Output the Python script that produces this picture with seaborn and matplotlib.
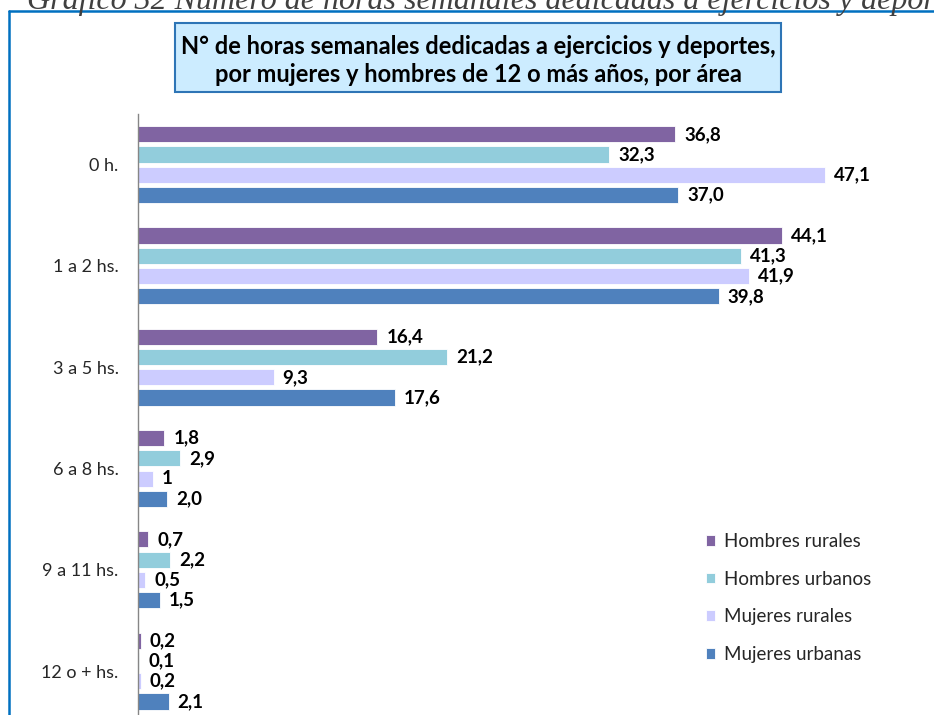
import matplotlib
matplotlib.use("Agg")
import matplotlib.pyplot as plt
from matplotlib.patches import Rectangle
from matplotlib.lines import Line2D
import seaborn as sns
import pandas as pd

categories = ["0 h.", "1 a 2 hs.", "3 a 5 hs.", "6 a 8 hs.", "9 a 11 hs.", "12 o + hs."]
series_names = ["Hombres rurales", "Hombres urbanos", "Mujeres rurales", "Mujeres urbanas"]
hombres_rurales = [36.8, 44.1, 16.4, 1.8, 0.7, 0.2]
hombres_urbanos = [32.3, 41.3, 21.2, 2.9, 2.2, 0.1]
mujeres_rurales = [47.1, 41.9, 9.3, 1, 0.5, 0.2]
mujeres_urbanas = [37.0, 39.8, 17.6, 2.0, 1.5, 2.1]
colors = ["#8064A2", "#92CDDC", "#CCCCFF", "#4F81BD"]

title_lines = ["N° de horas semanales dedicadas a ejercicios y deportes,",
               "por mujeres y hombres de 12 o más años, por área"]
header = "Gráfico 32 Número de horas semanales dedicadas a ejercicios y deportes"

series_values = [hombres_rurales, hombres_urbanos, mujeres_rurales, mujeres_urbanas]
rows = []
for name, vals in zip(series_names, series_values):
    for cat, v in zip(categories, vals):
        rows.append({"cat": cat, "serie": name, "valor": v})
df = pd.DataFrame(rows)

sns.set_theme(style="white")
plt.rcParams["font.family"] = ["Lato", "DejaVu Sans"]

W, H = 934, 715
fig = plt.figure(figsize=(W / 100, H / 100), dpi=100)
fig.patch.set_facecolor("white")

ax_left, ax_top = 138, 114
ax = fig.add_axes([ax_left / W, 0, 788 / W, (H - ax_top) / H])

sns.barplot(data=df, y="cat", x="valor", hue="serie", order=categories,
            hue_order=series_names, palette=dict(zip(series_names, colors)),
            orient="h", width=0.8, gap=0.2, edgecolor="white", linewidth=0.6,
            saturation=1, legend=True, ax=ax)

ax.set_xlim(0, 54)
ax.set_ylim(5.434, -0.5)
ax.set_xlabel("")
ax.set_ylabel("")
ax.set_xticks([])
for s in ["top", "right", "bottom"]:
    ax.spines[s].set_visible(False)
ax.spines["left"].set_color("#868686")
ax.spines["left"].set_linewidth(1.0)
ax.tick_params(axis="y", length=0, pad=14, labelsize=13, labelcolor="#262626")

def fmt(v):
    if isinstance(v, int):
        return str(v)
    return f"{v:.1f}".replace(".", ",")

for cont, vals in zip(ax.containers, series_values):
    ax.bar_label(cont, labels=[fmt(v) for v in vals], padding=6.5,
                 fontsize=13.5, fontweight="bold", color="#000000")

handles, labels = ax.get_legend_handles_labels()
ax.legend(handles, labels, loc="upper left", bbox_to_anchor=(706 / W, (H - 533) / H),
          bbox_transform=fig.transFigure, frameon=False, fontsize=13.5,
          handlelength=0.5, handleheight=0.5, handletextpad=0.45,
          labelspacing=1.1, borderaxespad=0, borderpad=0)

# outer frame lines
fig.add_artist(Line2D([9 / W, 1.0], [(H - 11) / H, (H - 11) / H], transform=fig.transFigure,
                      color="#0070C0", linewidth=1.8))
fig.add_artist(Line2D([9 / W, 9 / W], [0, (H - 11) / H], transform=fig.transFigure,
                      color="#0070C0", linewidth=1.8))

# title box
bx0, bx1, by0, by1 = 175, 781, 23, 92
fig.add_artist(Rectangle((bx0 / W, (H - by1) / H), (bx1 - bx0) / W, (by1 - by0) / H,
                         transform=fig.transFigure, facecolor="#CCECFF",
                         edgecolor="#2E75B6", linewidth=1.5))
fig.text((bx0 + bx1) / 2 / W, (H - 46) / H, title_lines[0], ha="center", va="center",
         fontsize=17, fontweight="bold", color="#000000")
fig.text((bx0 + bx1) / 2 / W, (H - 75) / H, title_lines[1], ha="center", va="center",
         fontsize=17, fontweight="bold", color="#000000")

# partially visible header above frame (clipped in the reference too)
fig.text(27 / W, (H - 9) / H, header, ha="left", va="baseline", fontsize=23,
         style="italic", color="#404040", family=["Liberation Serif", "DejaVu Serif"])

fig.savefig("out.png", dpi=100)
